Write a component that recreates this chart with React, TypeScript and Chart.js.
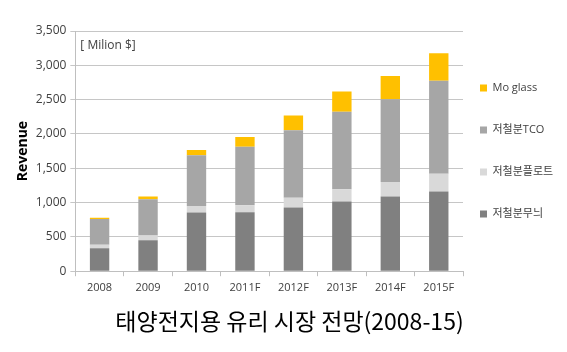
import React, { useEffect, useRef } from "react";
import { Chart, registerables } from "chart.js";

Chart.register(...registerables);

const categories = ["2008", "2009", "2010", "2011F", "2012F", "2013F", "2014F", "2015F"];
const patternLowIron = [335, 450, 855, 860, 930, 1015, 1090, 1160];
const floatLowIron = [50, 70, 95, 100, 140, 180, 210, 260];
const tcoLowIron = [375, 530, 740, 855, 985, 1130, 1205, 1355];
const moGlass = [20, 40, 75, 140, 215, 295, 340, 400];
const seriesNames = ["저철분무늬", "저철분플로트", "저철분TCO", "Mo glass"];
const titleText = "태양전지용 유리 시장 전망(2008-15)";
const unitText = "[ Milion $]";
const yTitle = "Revenue";

const LEGEND_WIDTH = 104;
const LEGEND_SHIFT = 14;

const unitPlugin = {
  id: "unitLabel",
  afterDraw(chart: any) {
    const { ctx, chartArea } = chart;
    ctx.save();
    ctx.font = "12px 'Open Sans', sans-serif";
    ctx.fillStyle = "#404040";
    ctx.textBaseline = "middle";
    ctx.textAlign = "left";
    ctx.fillText(unitText, chartArea.left + 5, chartArea.top + 15);
    ctx.restore();
  },
};

const legendPlacePlugin = {
  id: "legendPlace",
  beforeLayout(chart: any) {
    const lg = chart.legend;
    if (lg && !lg.__patched) {
      const orig = lg.fit;
      lg.fit = function () {
        orig.call(this);
        this.width = LEGEND_WIDTH;
      };
      lg.__patched = true;
    }
  },
  afterLayout(chart: any) {
    const lg = chart.legend;
    if (!lg) return;
    lg.left = lg.left - LEGEND_SHIFT;
    lg.right = chart.width;
    lg.width = lg.right - lg.left;
  },
};

export default function App() {
  const ref = useRef<HTMLCanvasElement>(null);
  useEffect(() => {
    document.body.style.margin = "0";
    const chart = new Chart(ref.current!, {
      type: "bar",
      data: {
        labels: categories,
        datasets: [
          { label: seriesNames[0], data: patternLowIron, backgroundColor: "#808080" },
          { label: seriesNames[1], data: floatLowIron, backgroundColor: "#d9d9d9" },
          { label: seriesNames[2], data: tcoLowIron, backgroundColor: "#a6a6a6" },
          { label: seriesNames[3], data: moGlass, backgroundColor: "#ffc000" },
        ],
      },
      options: {
        animation: false,
        responsive: true,
        maintainAspectRatio: false,
        layout: { padding: { left: 12, top: 31, right: 0, bottom: 2 } },
        datasets: { bar: { barPercentage: 0.8, categoryPercentage: 0.5 } },
        scales: {
          x: {
            stacked: true,
            grid: { display: true, drawOnChartArea: false, drawTicks: true, tickLength: 5, color: "#bfbfbf" },
            border: { color: "#bfbfbf" },
            ticks: { color: "#404040", font: { family: "'Open Sans', sans-serif", size: 11 }, padding: 5 },
          },
          y: {
            stacked: true,
            min: 0,
            max: 3500,
            ticks: { stepSize: 500, color: "#404040", font: { family: "'Open Sans', sans-serif", size: 12 }, padding: 4 },
            grid: { color: "#c6c6c6", tickLength: 5 },
            border: { color: "#bfbfbf" },
            title: {
              display: true,
              text: yTitle,
              color: "#000",
              font: { family: "'Open Sans', sans-serif", size: 14, weight: "bold" },
              padding: { top: 3, bottom: 0 },
            },
          },
        },
        plugins: {
          legend: {
            position: "right",
            fullSize: false,
            reverse: true,
            labels: {
              boxWidth: 7,
              boxHeight: 7,
              padding: 31,
              color: "#404040",
              font: { family: "'Open Sans', 'Noto Sans CJK KR', sans-serif", size: 11 },
            },
          },
          title: {
            display: true,
            position: "bottom",
            text: titleText,
            color: "#000",
            font: { family: "'Noto Sans CJK KR', sans-serif", size: 23, weight: "normal" },
            padding: { top: 8, bottom: 15 },
          },
          tooltip: { enabled: false },
        },
      },
      plugins: [unitPlugin, legendPlacePlugin],
    });
    return () => chart.destroy();
  }, []);
  return (
    <div style={{ position: "relative", width: 567, height: 352 }}>
      <canvas ref={ref} />
    </div>
  );
}
